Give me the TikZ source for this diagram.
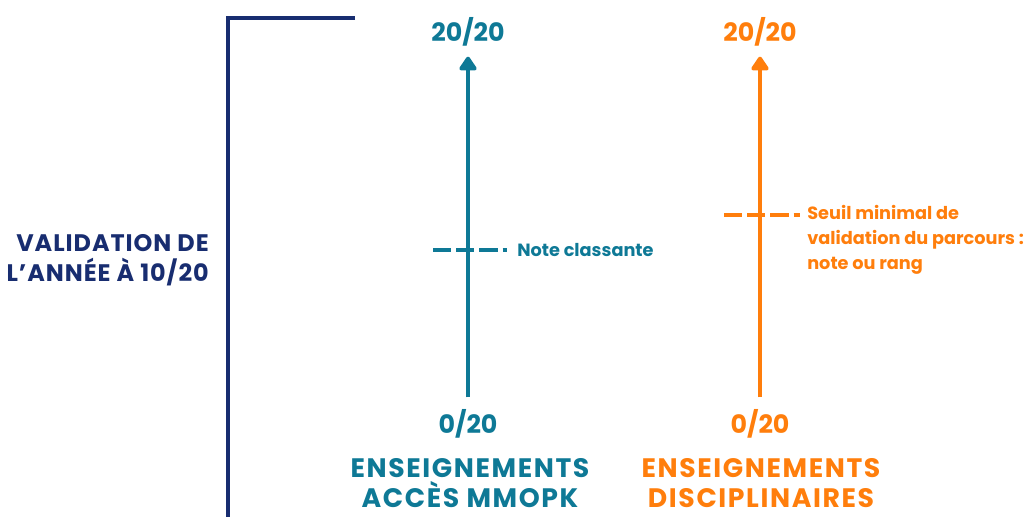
\documentclass[tikz,border=0pt]{standalone}
\usepackage{fontspec}
\setmainfont{Poppins}
\usetikzlibrary{arrows.meta}
\definecolor{bleufonce}{RGB}{24,45,112}
\definecolor{sarcelle}{RGB}{14,121,150}
\definecolor{orangevif}{RGB}{255,126,12}
\begin{document}
\begin{tikzpicture}
      [x=0.025cm,y=-0.025cm,
       grand/.style={inner sep=0pt,font=\bfseries\fontsize{18}{21}\selectfont},
       titre/.style={inner sep=0pt,font=\bfseries\fontsize{19}{21}\selectfont\addfontfeature{LetterSpace=6}},
       moyen/.style={inner sep=0pt,font=\bfseries\fontsize{17}{21}\selectfont\addfontfeature{LetterSpace=4}},
       petit/.style={inner sep=0pt,font=\bfseries\fontsize{12.6}{17.7}\selectfont},
       fleche/.style={line width=3.5pt,-{Triangle[width=14pt,length=11pt,round]},
                      shorten <=12*0.025cm,shorten >=10*0.025cm},
       tirets/.style={line width=2.4pt,dash pattern=on 13pt off 3.5pt},
       cadre/.style={line width=2.8pt,bleufonce}]
      \useasboundingbox (0,0) rectangle (1027,516);
      % cadre de gauche
      \coordinate(c1) at (355,18);
      \coordinate(c2) at (228,18);
      \coordinate(c3) at (228,520);
      \draw[cadre](c1) -- (c2) -- (c3);
      \node[moyen,text=bleufonce,align=right,anchor=east](annee) at (209,260)
            {VALIDATION DE\\L’ANNÉE À 10/20};
      % axe MMOPK
      \node[grand,text=sarcelle](mhaut) at (468,32) {20/20};
      \node[grand,text=sarcelle](mbas) at (468,424) {0/20};
      \draw[fleche,sarcelle](mbas) -- (mhaut);
      \coordinate(mg) at (433,250);
      \node[petit,text=sarcelle,anchor=west](note) at (517,250) {Note classante};
      \draw[tirets,sarcelle,shorten >=10*0.025cm](mg) -- (note.west);
      \node[titre,text=sarcelle,align=center](ens1) at (470,483)
            {ENSEIGNEMENTS\\ACCÈS MMOPK};
      % axe disciplinaire
      \node[grand,text=orangevif](dhaut) at (760,32) {20/20};
      \node[grand,text=orangevif](dbas) at (760,424) {0/20};
      \draw[fleche,orangevif](dbas) -- (dhaut);
      \coordinate(dg) at (724,215);
      \node[petit,text=orangevif,align=left,anchor=north west](seuil) at (807,205)
            {Seuil minimal de\\validation du parcours :\\note ou rang};
      \draw[tirets,orangevif,shorten >=7*0.025cm](dg) -- (dg -| seuil.west);
      \node[titre,text=orangevif,align=center](ens2) at (761,483)
            {ENSEIGNEMENTS\\DISCIPLINAIRES};
\end{tikzpicture}
\end{document}
